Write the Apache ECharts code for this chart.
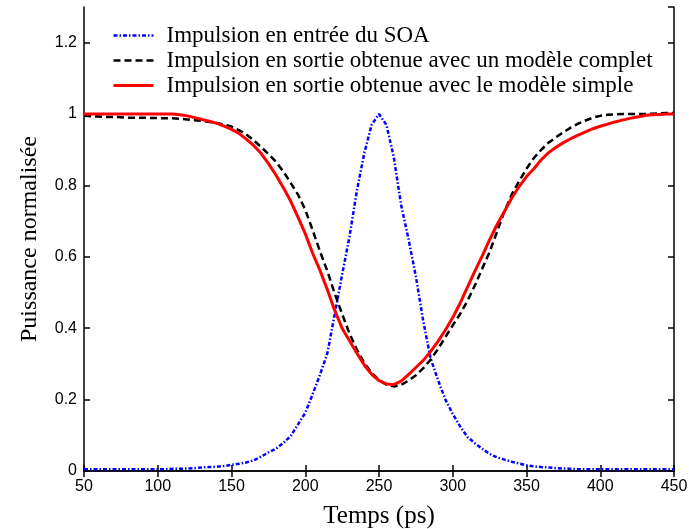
<!DOCTYPE html>
<html>
<head>
<meta charset="utf-8">
<script src="https://cdn.jsdelivr.net/npm/echarts@6/dist/echarts.min.js"></script>
<style>
html,body{margin:0;padding:0;background:#fff;}
#chart{width:689px;height:529px;}
</style>
</head>
<body>
<div id="chart"></div>
<script>
var times = [50,55,60,65,70,75,80,85,90,95,100,105,110,115,120,125,130,135,140,145,150,155,160,165,170,175,180,185,190,195,200,205,210,215,220,225,230,235,240,245,250,255,260,265,270,275,280,285,290,295,300,305,310,315,320,325,330,335,340,345,350,355,360,365,370,375,380,385,390,395,400,405,410,415,420,425,430,435,440,445,450];

var inputPulse = [0.005,0.005,0.005,0.005,0.005,0.005,0.005,0.005,0.005,0.005,0.005,0.005,0.006,0.006,0.007,
  0.008,0.010,0.011,0.012,0.014,0.017,0.020,0.024,0.030,0.040,
  0.052,0.062,0.078,0.097,0.130,0.163,0.215,0.270,0.330,0.440,
  0.550,0.657,0.785,0.890,0.970,1.000,0.970,0.880,0.745,0.650,
  0.545,0.420,0.315,0.255,0.200,0.160,0.125,0.095,0.078,0.062,
  0.048,0.038,0.032,0.026,0.021,0.016,0.013,0.011,0.010,0.008,
  0.007,0.006,0.005,0.005,0.005,0.005,0.005,0.005,0.005,0.005,0.005,0.005,0.005,0.005,0.005,0.005];

var completeModel = [0.995,0.994,0.993,0.992,0.992,0.991,0.990,0.990,0.990,0.989,0.989,0.988,0.988,
  0.987,0.985,0.983,0.981,0.978,0.975,0.971,0.965,0.955,0.943,
  0.927,0.908,0.888,0.867,0.840,0.808,0.775,0.732,0.675,0.615,
  0.560,0.497,0.440,0.385,0.340,0.303,0.275,0.255,0.242,0.237,
  0.241,0.253,0.268,0.288,0.312,0.342,0.375,0.408,0.440,0.477,
  0.520,0.567,0.614,0.670,0.727,0.775,0.812,0.847,0.877,0.900,
  0.920,0.935,0.949,0.962,0.973,0.982,0.990,0.995,0.998,0.999,
  1.000,1.000,1.000,1.000,1.001,1.002,1.003,1.003];

var simpleModel = [1.000,1.000,1.000,1.000,1.000,1.000,1.000,1.000,1.000,1.000,1.000,1.000,1.000,
  0.998,0.995,0.990,0.985,0.980,0.974,0.966,0.957,0.946,0.930,
  0.912,0.890,0.862,0.830,0.795,0.757,0.712,0.665,0.610,0.562,
  0.508,0.450,0.400,0.365,0.330,0.297,0.271,0.253,0.244,0.242,
  0.252,0.270,0.290,0.310,0.335,0.363,0.395,0.430,0.470,0.515,
  0.560,0.603,0.648,0.690,0.727,0.765,0.797,0.825,0.847,0.872,
  0.892,0.907,0.920,0.931,0.941,0.950,0.959,0.966,0.972,0.978,
  0.983,0.988,0.992,0.996,0.998,0.999,1.000,1.000];

var seriesNames = [
  "Impulsion en entrée du SOA",
  "Impulsion en sortie obtenue avec un modèle complet",
  "Impulsion en sortie obtenue avec le modèle simple"
];
var xTitle = "Temps (ps)";
var yTitle = "Puissance normalisée";

function pairs(vals){ return times.map(function(t,i){ return [t, vals[i]]; }); }

var serif = "'Liberation Serif','Times New Roman',serif";
var sans = "'Liberation Sans',Arial,sans-serif";

var axisLine = {show:true, lineStyle:{color:'#000', width:1.5}};
var ticks = {show:true, inside:true, length:6, lineStyle:{color:'#000', width:1.5}};

var blueStyle = {color:'#0000ff', width:2.5, type:[4,2,1.5,2]};
var blackStyle = {color:'#000', width:2.5, type:[7,4]};
var redStyle = {color:'#ff0000', width:3, type:'solid'};

var chart = echarts.init(document.getElementById('chart'), null, {renderer:'canvas'});
chart.setOption({
  animation:false,
  backgroundColor:'#fff',
  grid:{left:84, right:15, top:7, bottom:58, containLabel:false, outerBoundsMode:'none'},
  legend:{
    show:true, orient:'vertical', left:112, top:24, padding:0,
    itemWidth:40, itemHeight:20, itemGap:2,
    data:[
      {name:seriesNames[0], lineStyle:blueStyle},
      {name:seriesNames[1], lineStyle:blackStyle},
      {name:seriesNames[2], lineStyle:redStyle}
    ],
    itemStyle:{color:'transparent', borderColor:'transparent', borderWidth:0, opacity:0},
    textStyle:{fontFamily:serif, fontSize:23, color:'#000', padding:[0,0,0,8]}
  },
  xAxis:[
    {type:'value', min:50, max:450, interval:50, position:'bottom',
     name:xTitle, nameLocation:'middle', nameGap:33,
     nameTextStyle:{fontFamily:serif, fontSize:25, color:'#000'},
     axisLine:axisLine, axisTick:ticks, splitLine:{show:false},
     axisLabel:{fontFamily:sans, fontSize:16, color:'#000', margin:8}},
    {type:'value', min:50, max:450, interval:50, position:'top',
     axisLine:axisLine, axisTick:ticks, splitLine:{show:false}, axisLabel:{show:false}}
  ],
  yAxis:[
    {type:'value', min:0, max:1.3, interval:0.2, position:'left',
     name:yTitle, nameLocation:'middle', nameGap:42,
     nameTextStyle:{fontFamily:serif, fontSize:24, color:'#000'},
     axisLine:axisLine, axisTick:ticks, splitLine:{show:false},
     axisLabel:{fontFamily:sans, fontSize:16, color:'#000', margin:7, showMaxLabel:false}},
    {type:'value', min:0, max:1.3, interval:0.2, position:'right',
     axisLine:axisLine, axisTick:ticks, splitLine:{show:false}, axisLabel:{show:false}}
  ],
  series:[
    {name:seriesNames[0], type:'line', data:pairs(inputPulse), symbol:'none', smooth:false,
     lineStyle:blueStyle, itemStyle:{color:'#0000ff'}, z:2},
    {name:seriesNames[1], type:'line', data:pairs(completeModel), symbol:'none',
     lineStyle:blackStyle, itemStyle:{color:'#000'}, z:3},
    {name:seriesNames[2], type:'line', data:pairs(simpleModel), symbol:'none',
     lineStyle:redStyle, itemStyle:{color:'#ff0000'}, z:4}
  ]
});
</script>
</body>
</html>
